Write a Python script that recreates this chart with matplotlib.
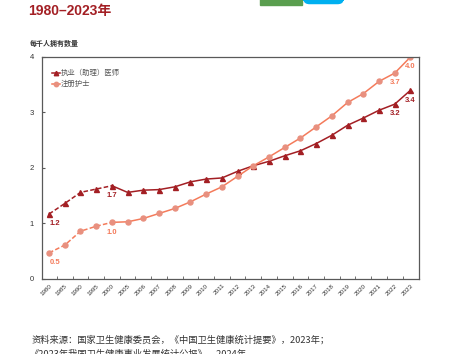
import matplotlib
matplotlib.use('Agg')
import matplotlib.pyplot as plt
from matplotlib.patches import Rectangle, FancyBboxPatch

plt.rcParams['font.family'] = ['Liberation Sans', 'Noto Sans CJK SC', 'DejaVu Sans']

years = ['1980', '1985', '1990', '1995', '2000', '2005', '2006', '2007', '2008',
         '2009', '2010', '2011', '2012', '2013', '2014', '2015', '2016', '2017',
         '2018', '2019', '2020', '2021', '2022', '2023']
doctors = [1.17, 1.36, 1.56, 1.62, 1.68, 1.56, 1.60, 1.61, 1.66, 1.75, 1.80, 1.82,
           1.94, 2.04, 2.12, 2.22, 2.31, 2.44, 2.59, 2.77, 2.90, 3.04, 3.15, 3.40]
nurses = [0.47, 0.61, 0.86, 0.95, 1.02, 1.03, 1.09, 1.18, 1.27, 1.39, 1.53, 1.66,
          1.85, 2.04, 2.20, 2.37, 2.54, 2.74, 2.94, 3.18, 3.34, 3.56, 3.71, 4.00]
# labelled points
doc_labels = [(0, '1.2'), (4, '1.7'), (22, '3.2'), (23, '3.4')]
nur_labels = [(0, '0.5'), (4, '1.0'), (22, '3.7'), (23, '4.0')]

red = '#A31F24'
salmon = '#F47B5B'
salmon_mk = '#E8907F'
grey = '#595959'

fig = plt.figure(figsize=(4.5, 3.54), dpi=100)
ax = fig.add_axes([0.0933, 0.212, 0.838, 0.627])

x = list(range(len(years)))
split = 4

# dashed early years, solid later
ax.plot(x[:split + 1], doctors[:split + 1], color=red, lw=1.1, ls=(0, (3, 1.5)))
ax.plot(x[split:], doctors[split:], color=red, lw=1.1)
ax.plot(x, doctors, ls='none', marker='^', ms=3.6, color=red)
ax.plot(x[:split + 1], nurses[:split + 1], color=salmon, lw=1.1, ls=(0, (3, 1.5)))
ax.plot(x[split:], nurses[split:], color=salmon, lw=1.1)
ax.plot(x, nurses, ls='none', marker='o', ms=3.6, color=salmon_mk)

# legend handles
ax.plot([], [], color=red, lw=1.1, marker='^', ms=3.2, label='执业（助理）医师')
ax.plot([], [], color=salmon, lw=1.1, marker='o', ms=3.2, mfc=salmon_mk,
        mec=salmon_mk, label='注册护士')
h, l = ax.get_legend_handles_labels()
leg = ax.legend(h[-2:], l[-2:], loc='upper left', bbox_to_anchor=(0.01, 0.975),
                frameon=False, handlelength=1.0, handletextpad=0.1,
                labelspacing=0.4, prop={'family': ['Noto Sans CJK SC'], 'size': 5.3})
for t in leg.get_texts():
    t.set_color('#555555')

for i, s in doc_labels:
    dx = 4 if i == 0 else 0
    ax.annotate(s, (x[i], doctors[i]), xytext=(dx, -7), textcoords='offset points',
                ha='center', va='center', fontsize=5.5, color=red, fontweight='bold')
for i, s in nur_labels:
    dx = 4 if i == 0 else 0
    ax.annotate(s, (x[i], nurses[i]), xytext=(dx, -7), textcoords='offset points',
                ha='center', va='center', fontsize=5.5, color=salmon, fontweight='bold')

ax.set_xlim(-0.45, 23.55)
ax.set_ylim(0, 4)
ax.set_yticks([0, 1, 2, 3, 4])
ax.set_xticks(x)
ax.set_xticklabels(years, rotation=45, fontsize=4.5, ha='right', rotation_mode='anchor')
ax.set_xticks([i + 0.5 for i in x[:-1]], minor=True)
ax.tick_params(axis='x', which='major', length=0, pad=3, colors='#333333')
ax.tick_params(axis='x', which='minor', direction='in', length=2.5, color=grey)
ax.tick_params(axis='y', direction='in', length=2, labelsize=5.5, pad=6,
               color=grey, labelcolor='#333333')
for sp in ax.spines.values():
    sp.set_color(grey)
    sp.set_linewidth(0.9)

fig.text(0.067, 0.87, '每千人拥有数量', fontsize=5, fontweight='bold',
         color='#333333', family=['Noto Sans CJK SC'])

# page header remnants
fig.text(0.062, 0.99, '1980–2023年', fontsize=10, fontweight='bold', color=red,
         va='top', ha='left')
fig.patches.append(Rectangle((0.578, 0.985), 0.093, 0.03, transform=fig.transFigure,
                             color='#5A9E4F', zorder=0))
fig.patches.append(FancyBboxPatch((0.676, 0.990), 0.086, 0.02,
                                  boxstyle='round,pad=0,rounding_size=0.012',
                                  transform=fig.transFigure, color='#00B0F0', zorder=0))

fig.text(0.069, 0.039, '资料来源：国家卫生健康委员会，《中国卫生健康统计提要》，2023年；',
         fontsize=6.7, color='#333333', family=['Noto Sans CJK SC'], va='center')
fig.text(0.064, 0.0, '《2023年我国卫生健康事业发展统计公报》，2024年。',
         fontsize=6.7, color='#333333', family=['Noto Sans CJK SC'], va='center')

fig.savefig('out.png', dpi=100)
